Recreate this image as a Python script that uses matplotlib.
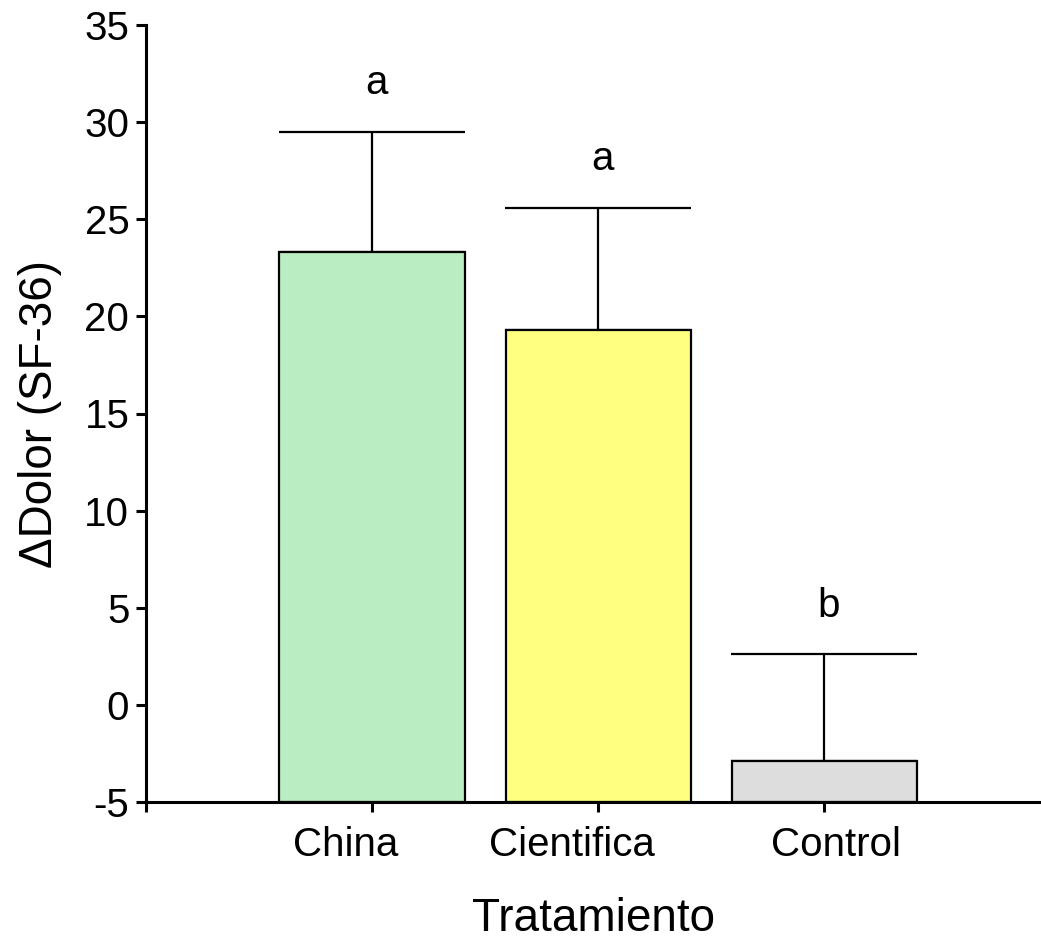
import matplotlib
matplotlib.use("Agg")
import matplotlib.pyplot as plt

categories = ["China", "Cientifica", "Control"]
means = [23.3, 19.3, -2.9]
sems = [6.2, 6.3, 5.5]
letters = ["a", "a", "b"]
colors = ["#BAEEC2", "#FFFF80", "#DDDDDD"]
yticks = [-5, 0, 5, 10, 15, 20, 25, 30, 35]

plt.rcParams['font.family'] = ['Liberation Sans', 'DejaVu Sans']

fig = plt.figure(figsize=(10.41, 9.4), dpi=100)
ax = fig.add_axes([146/1041, 138/940, 1 - 146/1041, (802-25)/940])

base = -5
x = list(range(len(categories)))
heights = [m - base for m in means]
ax.bar(x, heights, bottom=base, width=0.82, color=colors, edgecolor="black",
       linewidth=1.6, zorder=2)
ax.errorbar(x, means, yerr=[[0]*len(sems), sems], fmt="none", ecolor="black",
            elinewidth=1.6, capsize=67, capthick=1.6, zorder=1)

for xi, m, s, lab in zip(x, means, sems, letters):
    ax.annotate(lab, xy=(xi, m + s), xytext=(3, 27), textcoords="offset points",
                ha="center", va="baseline", fontsize=29)

ax.set_ylim(-5, 35)
ax.set_xlim(-1, 2.958)
ax.set_yticks(yticks)
ax.set_yticklabels([str(t) for t in yticks], fontsize=29)
# major ticks: marks only
ax.set_xticks([-1] + x)
ax.set_xticklabels([""] * (len(x) + 1))
# minor ticks: labels only (slightly shifted as in the reference)
label_shift = [-0.115, -0.115, 0.053]
ax.set_xticks([xi + d for xi, d in zip(x, label_shift)], minor=True)
ax.set_xticklabels(categories, minor=True, fontsize=29)
ax.tick_params(axis="x", which="minor", length=0, pad=17)

for side in ["top", "right"]:
    ax.spines[side].set_visible(False)
for side in ["left", "bottom"]:
    ax.spines[side].set_linewidth(2.2)
ax.tick_params(axis="both", which="major", width=2.2, length=7, direction="out")
ax.tick_params(axis="y", pad=5)

ax.set_xlabel("Tratamiento", fontsize=33, labelpad=24)
ax.set_ylabel("\u0394Dolor (SF-36)", fontsize=33, labelpad=16)

fig.savefig("out.png", dpi=100)
